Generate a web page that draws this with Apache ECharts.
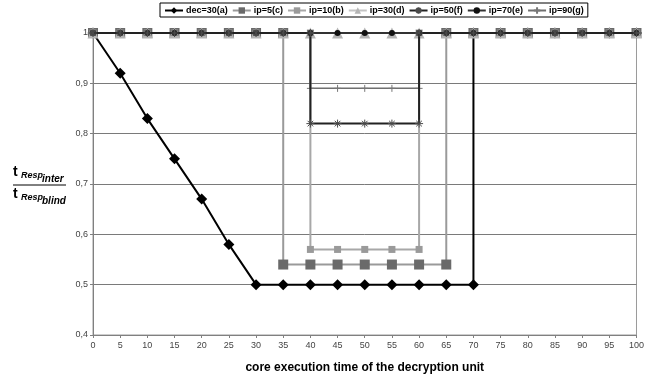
<!DOCTYPE html>
<html>
<head>
<meta charset="utf-8">
<script src="https://cdn.jsdelivr.net/npm/echarts@6/dist/echarts.min.js"></script>
<style>
  html, body { margin: 0; padding: 0; background: #fff; }
  #chart { width: 647px; height: 379px; }
</style>
</head>
<body>
<div id="chart"></div>
<script>
// x ticks: core execution time 0..100 step 5
const xTicks = [0,5,10,15,20,25,30,35,40,45,50,55,60,65,70,75,80,85,90,95,100];
const yTicks = [0.4,0.5,0.6,0.7,0.8,0.9,1];

// Each series is a list of [time, ratio] points; repeated x gives the vertical steps.
const decA = [[0,1],[5,0.92],[10,0.83],[15,0.75],[20,0.67],[25,0.58],[30,0.5],[35,0.5],[40,0.5],[45,0.5],[50,0.5],[55,0.5],[60,0.5],[65,0.5],[70,0.5],[70,1],[75,1],[80,1],[85,1],[90,1],[95,1],[100,1]];
const ip5C = [[0,1],[5,1],[10,1],[15,1],[20,1],[25,1],[30,1],[35,1],[35,0.54],[40,0.54],[45,0.54],[50,0.54],[55,0.54],[60,0.54],[65,0.54],[65,1],[70,1],[75,1],[80,1],[85,1],[90,1],[95,1],[100,1]];
const ip10B = [[0,1],[5,1],[10,1],[15,1],[20,1],[25,1],[30,1],[35,1],[40,1],[40,0.57],[45,0.57],[50,0.57],[55,0.57],[60,0.57],[60,1],[65,1],[70,1],[75,1],[80,1],[85,1],[90,1],[95,1],[100,1]];
const ip30D = [[0,1],[5,1],[10,1],[15,1],[20,1],[25,1],[30,1],[35,1],[40,1],[45,1],[50,1],[55,1],[60,1],[65,1],[70,1],[75,1],[80,1],[85,1],[90,1],[95,1],[100,1]];
const ip50F = [[0,1],[5,1],[10,1],[15,1],[20,1],[25,1],[30,1],[35,1],[40,1],[40,0.82],[45,0.82],[50,0.82],[55,0.82],[60,0.82],[60,1],[65,1],[70,1],[75,1],[80,1],[85,1],[90,1],[95,1],[100,1]];
const ip70E = [[0,1],[5,1],[10,1],[15,1],[20,1],[25,1],[30,1],[35,1],[40,1],[45,1],[50,1],[55,1],[60,1],[65,1],[70,1],[75,1],[80,1],[85,1],[90,1],[95,1],[100,1]];
const ip90G = [[0,1],[5,1],[10,1],[15,1],[20,1],[25,1],[30,1],[35,1],[40,1],[40,0.89],[45,0.89],[50,0.89],[55,0.89],[60,0.89],[60,1],[65,1],[70,1],[75,1],[80,1],[85,1],[90,1],[95,1],[100,1]];

const seriesNames = ['dec=30(a)','ip=5(c)','ip=10(b)','ip=30(d)','ip=50(f)','ip=70(e)','ip=90(g)'];

// marker shapes
const STAR = 'path://M5,0L5,10M0,5L10,5M1.5,1.5L8.5,8.5M8.5,1.5L1.5,8.5';
const PLUS = 'path://M5,0L5,10M0,5L10,5';

const FONT = 'Arial, "Liberation Sans", sans-serif';

function lineSeries(name, data, lineColor, lineWidth, symbol, symbolSize, markColor, extra) {
  return Object.assign({
    name: name,
    type: 'line',
    data: data,
    clip: false,
    symbol: symbol,
    symbolSize: symbolSize,
    showAllSymbol: true,
    animation: false,
    lineStyle: { color: lineColor, width: lineWidth },
    itemStyle: { color: markColor, borderColor: markColor, borderWidth: 0, opacity: 1 },
    emphasis: { disabled: true }
  }, extra || {});
}

const chart = echarts.init(document.getElementById('chart'), null, { renderer: 'canvas' });

chart.setOption({
  backgroundColor: '#fff',
  animation: false,
  textStyle: { fontFamily: FONT },
  legend: {
    data: seriesNames,
    left: 160,
    top: 3,
    padding: [3, 4, 2, 4],
    itemGap: 4,
    itemWidth: 18,
    itemHeight: 8,
    borderColor: '#000',
    borderWidth: 1,
    borderRadius: 0,
    textStyle: { fontFamily: FONT, fontSize: 9, color: '#000', fontWeight: 'bold', padding: [0,0,0,-2] }
  },
  grid: {
    left: 93, right: 9, top: 33, bottom: 40,
    show: true, borderColor: '#9a9a9a', borderWidth: 1, backgroundColor: 'transparent'
  },
  xAxis: {
    type: 'value',
    min: 0, max: 100, interval: 5,
    name: 'core execution time of the decryption unit',
    nameLocation: 'middle',
    nameGap: 27,
    nameTextStyle: { fontFamily: FONT, fontSize: 12, fontWeight: 'bold', color: '#000' },
    axisLine: { show: true, onZero: false, lineStyle: { color: '#808080', width: 1 } },
    axisTick: { show: true, length: 3, lineStyle: { color: '#808080' } },
    axisLabel: { fontSize: 9, color: '#444', margin: 6, fontFamily: FONT },
    splitLine: { show: false }
  },
  yAxis: {
    type: 'value',
    min: 0.4, max: 1, interval: 0.1,
    axisLine: { show: true, lineStyle: { color: '#808080', width: 1 } },
    axisTick: { show: true, length: 3, lineStyle: { color: '#808080' } },
    axisLabel: {
      fontSize: 9, color: '#444', margin: 5, fontFamily: FONT,
      formatter: v => (Math.round(v * 10) / 10).toString().replace('.', ',')
    },
    splitLine: { show: true, lineStyle: { color: '#7a7a7a', width: 1 } }
  },
  graphic: [
    { type: 'text', left: 13, top: 165, style: { text: 't', font: 'bold 14px ' + FONT, fill: '#000' } },
    { type: 'text', left: 21, top: 171, style: { text: 'Resp', font: 'italic bold 9px ' + FONT, fill: '#000' } },
    { type: 'text', left: 42, top: 174, style: { text: 'inter', font: 'italic bold 10px ' + FONT, fill: '#000' } },
    { type: 'line', shape: { x1: 13, y1: 185, x2: 66, y2: 185 }, style: { stroke: '#000', lineWidth: 1 } },
    { type: 'text', left: 13, top: 187, style: { text: 't', font: 'bold 14px ' + FONT, fill: '#000' } },
    { type: 'text', left: 21, top: 193, style: { text: 'Resp', font: 'italic bold 9px ' + FONT, fill: '#000' } },
    { type: 'text', left: 42, top: 196, style: { text: 'blind', font: 'italic bold 10px ' + FONT, fill: '#000' } }
  ],
  series: [
    lineSeries(seriesNames[0], decA, '#000', 2, 'diamond', 11, '#000', { z: 2 }),
    lineSeries(seriesNames[1], ip5C, '#9a9a9a', 2, 'rect', 10, '#6a6a6a', { z: 3 }),
    lineSeries(seriesNames[2], ip10B, '#a8a8a8', 2, 'rect', 7, '#9a9a9a', { z: 3 }),
    lineSeries(seriesNames[3], ip30D, '#c4c4c4', 2, 'triangle', 11, '#b4b4b4', { z: 4 }),
    lineSeries(seriesNames[4], ip50F, '#222', 2, STAR, 8, '#4a4a4a', { z: 6, itemStyle: { color: '#4a4a4a', borderColor: '#4a4a4a', borderWidth: 1 } }),
    lineSeries(seriesNames[5], ip70E, '#333', 2, 'circle', 6, '#111', { z: 5 }),
    lineSeries(seriesNames[6], ip90G, '#707070', 1.5, PLUS, 7, '#777', { z: 5, itemStyle: { color: '#777', borderColor: '#777', borderWidth: 1 } })
  ]
});
</script>
</body>
</html>
